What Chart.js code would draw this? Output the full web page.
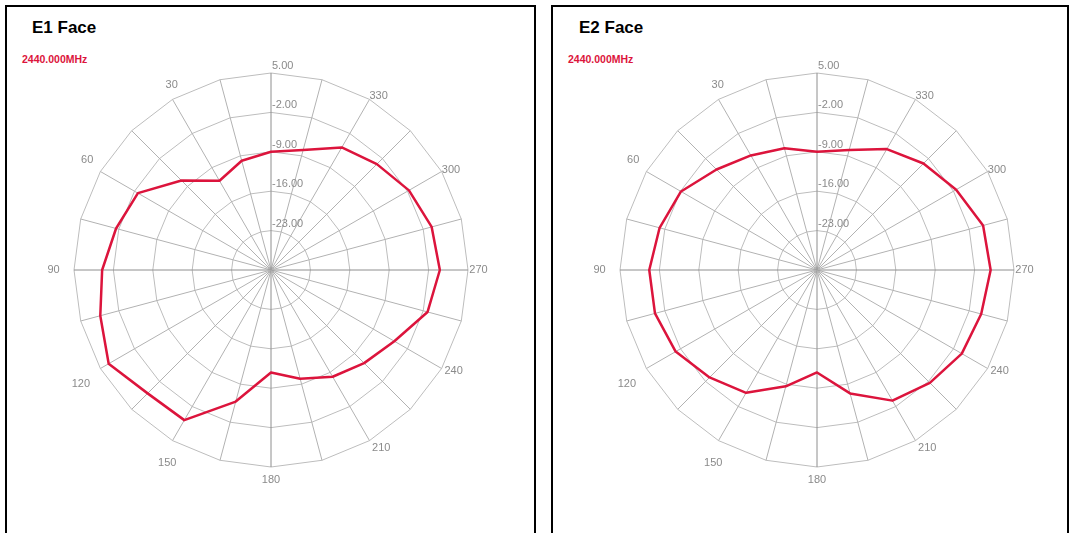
<!DOCTYPE html>
<html>
<head>
<meta charset="utf-8">
<title>E1 / E2 Face radiation patterns</title>
<script src="https://cdn.jsdelivr.net/npm/chart.js@4.4.1/dist/chart.umd.min.js"></script>
<style>
  html, body { margin: 0; padding: 0; background: #fff; width: 1071px; height: 533px; overflow: hidden;
               font-family: "Liberation Sans", Arial, sans-serif; }
  .panel { position: absolute; top: 5px; height: 600px; border: 2px solid #000; box-sizing: border-box; }
  #p1 { left: 5px; width: 531px; }
  #p2 { left: 551px; width: 518px; }
  .title { position: absolute; top: 19px; font-weight: bold; font-size: 17px; line-height: 17px; color: #000; white-space: nowrap; }
  .freq { position: absolute; top: 54px; font-weight: bold; font-size: 10.5px; line-height: 10.5px; color: #dc143c; white-space: nowrap; }
  canvas { position: absolute; top: 0; }
</style>
</head>
<body>
<div class="panel" id="p1"></div>
<div class="panel" id="p2"></div>
<div class="title" style="left:32px">E1 Face</div>
<div class="title" style="left:579px">E2 Face</div>
<div class="freq" id="f1" style="left:22px"></div>
<div class="freq" id="f2" style="left:568px"></div>
<canvas id="c1" width="545" height="533" style="left:0"></canvas>
<canvas id="c2" width="525" height="533" style="left:546px"></canvas>
<script>
// Measurement angles (degrees, counter-clockwise from the top) and gains in dB
const angleDeg = [0, 15, 30, 45, 60, 75, 90, 105, 120, 135, 150, 165,
                  180, 195, 210, 225, 240, 255, 270, 285, 300, 315, 330, 345];
const e1Gain = [-9.0, -9.9, -11.7, -7.5, -2.7, -1.5, 0.0, 1.4, 3.3, 1.0, 0.8, -5.8,
                -11.8, -10.0, -8.1, -6.6, -4.7, -1.2, 0.0, -0.45, -1.7, -3.4, -4.85, -7.95];
const e2Gain = [-9.0, -7.6, -6.5, -4.75, -2.1, -1.05, -0.2, -0.2, -1.0, -3.0, -4.8, -8.6,
                -11.8, -7.3, -3.2, -1.65, -0.3, 0.2, 0.85, 0.55, -1.45, -3.25, -5.2, -7.95];
// Radial scale rings (dB) and the angle captions shown round the rim
const ringTicks = [-30, -23, -16, -9, -2, 5];
const angleCaptions = [30, 60, 90, 120, 150, 180, 210, 240, 270, 300, 330];
const freqLabel = '2440.000MHz';

document.getElementById('f1').textContent = freqLabel;
document.getElementById('f2').textContent = freqLabel;

// Chart.js walks radar labels clockwise; the pattern angles run counter-clockwise
const order = [angleDeg[0], ...angleDeg.slice(1).reverse()];
const byOrder = gains => order.map(a => gains[angleDeg.indexOf(a)]);

const GRAY_TEXT = '#8a8a8a';
const FONT = '11px "Liberation Sans", Arial, sans-serif';
const pos = v => Math.max(0, v);

// Ring values next to the vertical axis and angle captions outside the rim
const polarText = {
  id: 'polarText',
  afterDatasetsDraw(chart) {
    const s = chart.scales.r;
    const ctx = chart.ctx;
    ctx.save();
    ctx.font = FONT;
    ctx.fillStyle = GRAY_TEXT;
    ctx.textAlign = 'left';
    ctx.textBaseline = 'alphabetic';
    s.ticks.forEach(t => {
      if (t.value === s.min) return;
      const p = s.getPointPositionForValue(0, t.value);
      ctx.fillText(t.value.toFixed(2), p.x + 1, p.y - 4);
    });
    ctx.textAlign = 'center';
    ctx.textBaseline = 'middle';
    angleCaptions.forEach(a => {
      const rad = a * Math.PI / 180;
      const sn = Math.sin(rad), cs = Math.cos(rad);
      // caption centre: a little outside the rim, nudged so the text clears the spoke end
      const gap = 10.5 + 10 * pos(sn) + 2.5 * pos(-cs) - 3.3 * pos(cs) + 10 * pos(sn) * pos(-cs);
      const shift = -2 * cs * Math.min(1, 2 * Math.abs(sn)) * Math.PI / 180;
      const idx = order.indexOf(a);
      const ang = s.getIndexAngle(idx) - Math.PI / 2 - shift;
      const r = s.drawingArea + gap;
      ctx.fillText(String(a), s.xCenter + Math.cos(ang) * r, s.yCenter + Math.sin(ang) * r);
    });
    ctx.restore();
  }
};

function makeChart(id, gains, padLeft, padRight) {
  return new Chart(document.getElementById(id), {
    type: 'radar',
    data: {
      labels: order,
      datasets: [{
        data: byOrder(gains),
        borderColor: '#dc143c',
        borderWidth: 2.5,
        borderJoinStyle: 'round',
        pointRadius: 0,
        pointHoverRadius: 0,
        fill: false,
        tension: 0
      }]
    },
    options: {
      responsive: false,
      animation: false,
      devicePixelRatio: 1,
      layout: { padding: { left: padLeft, right: padRight, top: 73, bottom: 66 } },
      plugins: { legend: { display: false }, tooltip: { enabled: false } },
      scales: {
        r: {
          min: ringTicks[0],
          max: ringTicks[ringTicks.length - 1],
          ticks: { display: false, stepSize: ringTicks[1] - ringTicks[0] },
          pointLabels: { display: false },
          grid: { circular: false, color: '#bdbdbd', lineWidth: 1 },
          angleLines: {
            lineWidth: 1,
            color: c => (Number(c.label) % 90 === 0 ? '#8e8e8e' : '#b2b2b2')
          }
        }
      }
    },
    plugins: [polarText]
  });
}

makeChart('c1', e1Gain, 74, 77);
makeChart('c2', e2Gain, 74, 57);
</script>
</body>
</html>
